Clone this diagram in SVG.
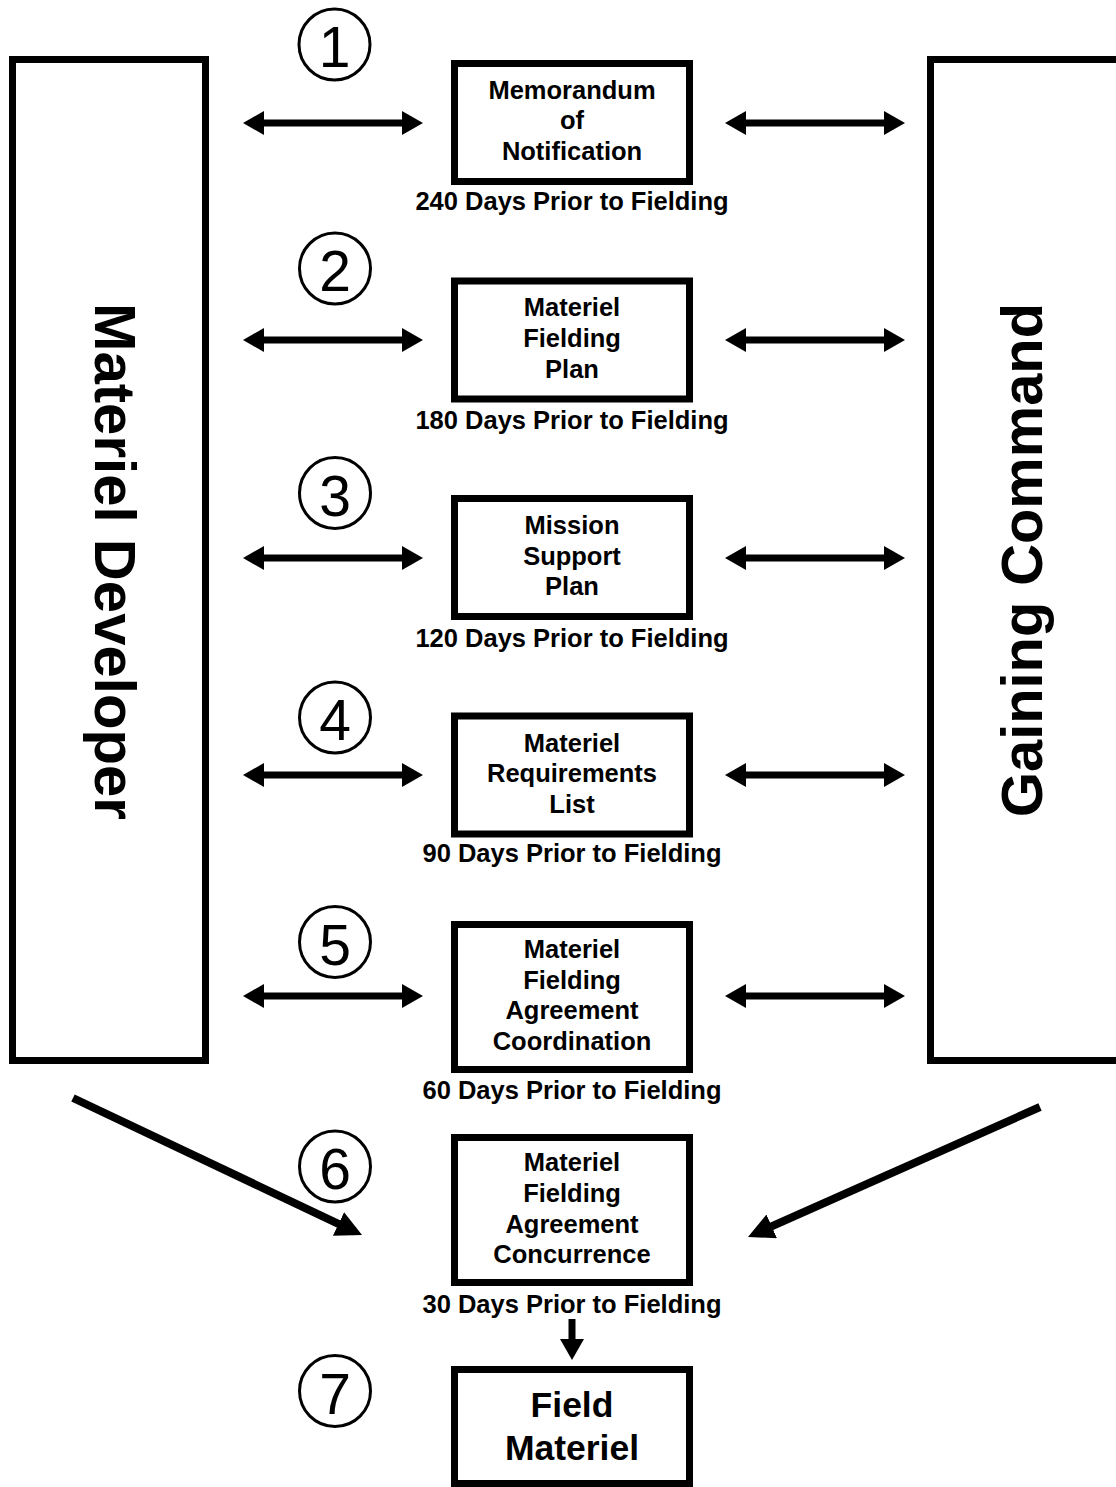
<svg xmlns="http://www.w3.org/2000/svg" width="1116" height="1487" viewBox="0 0 1116 1487">
  <style>
    .frame { fill: #fff; stroke: #000; stroke-width: 7; }
    .box { fill: #fff; stroke: #000; stroke-width: 7; }
    .side { font-family: "Liberation Sans", Arial, sans-serif; font-weight: bold; font-size: 58px; fill: #000; }
    .lbl { font-family: "Liberation Sans", Arial, sans-serif; font-weight: bold; font-size: 25.5px; fill: #000; text-anchor: middle; }
    .big { font-family: "Liberation Sans", Arial, sans-serif; font-weight: bold; font-size: 35.5px; fill: #000; text-anchor: middle; }
    .step { fill: none; stroke: #000; stroke-width: 3; }
    .num { font-family: "Liberation Sans", Arial, sans-serif; font-size: 57px; fill: #000; text-anchor: middle; }
    .link { stroke: #000; stroke-width: 7; fill: none; marker-start: url(#head); marker-end: url(#head); }
    .down { stroke: #000; stroke-width: 7; fill: none; marker-end: url(#head); }
    .diag { stroke: #000; stroke-width: 8; fill: none; marker-end: url(#bighead); }
  </style>
  <defs>
    <marker id="head" markerUnits="userSpaceOnUse" markerWidth="21" markerHeight="24" refX="14" refY="12" orient="auto-start-reverse" viewBox="0 0 21 24">
      <path d="M0,0 L21,12 L0,24 z" fill="#000"/>
    </marker>
    <marker id="bighead" markerUnits="userSpaceOnUse" markerWidth="26" markerHeight="26" refX="18" refY="13" orient="auto" viewBox="0 0 26 26">
      <path d="M0,0 L26,13 L0,26 z" fill="#000"/>
    </marker>
  </defs>

  <rect width="1116" height="1487" fill="#fff"/>

  <!-- side parties -->
  <g id="materiel-developer">
    <rect class="frame" x="12.5" y="59.5" width="193" height="1001"/>
    <text class="side" text-anchor="middle" textLength="517" lengthAdjust="spacingAndGlyphs" transform="translate(95,561.5) rotate(90)">Materiel Developer</text>
  </g>
  <g id="gaining-command">
    <rect class="frame" x="930.5" y="59.5" width="200" height="1001"/>
    <text class="side" text-anchor="middle" textLength="514" lengthAdjust="spacingAndGlyphs" transform="translate(1042,560) rotate(-90)">Gaining Command</text>
  </g>

  <!-- step 1 -->
  <g id="step1">
    <circle class="step" cx="334.5" cy="44.5" r="35.5"/>
    <text class="num" x="334.5" y="67">1</text>
    <rect class="box" x="454.5" y="63.5" width="235" height="118"/>
    <text class="lbl" x="572" y="99">Memorandum</text>
    <text class="lbl" x="572" y="129">of</text>
    <text class="lbl" x="572" y="160">Notification</text>
    <text class="lbl" x="572" y="210">240 Days Prior to Fielding</text>
  </g>

  <!-- step 2 -->
  <g id="step2">
    <circle class="step" cx="335" cy="268.5" r="35.5"/>
    <text class="num" x="335" y="291">2</text>
    <rect class="box" x="454.5" y="281" width="235" height="118"/>
    <text class="lbl" x="572" y="316">Materiel</text>
    <text class="lbl" x="572" y="347">Fielding</text>
    <text class="lbl" x="572" y="378">Plan</text>
    <text class="lbl" x="572" y="429">180 Days Prior to Fielding</text>
  </g>

  <!-- step 3 -->
  <g id="step3">
    <circle class="step" cx="335" cy="493" r="35.5"/>
    <text class="num" x="335" y="515.5">3</text>
    <rect class="box" x="454.5" y="498.5" width="235" height="118"/>
    <text class="lbl" x="572" y="534">Mission</text>
    <text class="lbl" x="572" y="565">Support</text>
    <text class="lbl" x="572" y="595">Plan</text>
    <text class="lbl" x="572" y="647">120 Days Prior to Fielding</text>
  </g>

  <!-- step 4 -->
  <g id="step4">
    <circle class="step" cx="335" cy="717.5" r="35.5"/>
    <text class="num" x="335" y="740">4</text>
    <rect class="box" x="454.5" y="716" width="235" height="118"/>
    <text class="lbl" x="572" y="752">Materiel</text>
    <text class="lbl" x="572" y="782">Requirements</text>
    <text class="lbl" x="572" y="813">List</text>
    <text class="lbl" x="572" y="862">90 Days Prior to Fielding</text>
  </g>

  <!-- step 5 -->
  <g id="step5">
    <circle class="step" cx="335" cy="942" r="35.5"/>
    <text class="num" x="335" y="964.5">5</text>
    <rect class="box" x="454.5" y="924.5" width="235" height="145"/>
    <text class="lbl" x="572" y="958">Materiel</text>
    <text class="lbl" x="572" y="989">Fielding</text>
    <text class="lbl" x="572" y="1019">Agreement</text>
    <text class="lbl" x="572" y="1050">Coordination</text>
    <text class="lbl" x="572" y="1099">60 Days Prior to Fielding</text>
  </g>

  <!-- step 6 -->
  <g id="step6">
    <circle class="step" cx="335" cy="1166.5" r="35.5"/>
    <text class="num" x="335" y="1189">6</text>
    <rect class="box" x="454.5" y="1137.5" width="235" height="145"/>
    <text class="lbl" x="572" y="1171">Materiel</text>
    <text class="lbl" x="572" y="1202">Fielding</text>
    <text class="lbl" x="572" y="1233">Agreement</text>
    <text class="lbl" x="572" y="1263">Concurrence</text>
    <text class="lbl" x="572" y="1313">30 Days Prior to Fielding</text>
  </g>

  <!-- step 7 -->
  <g id="step7">
    <circle class="step" cx="335" cy="1391" r="35.5"/>
    <text class="num" x="335" y="1413.5">7</text>
    <rect class="box" x="454.5" y="1369.5" width="235" height="114"/>
    <text class="big" x="572" y="1417">Field</text>
    <text class="big" x="572" y="1460">Materiel</text>
  </g>

  <!-- connectors -->
  <g id="connectors">
    <line class="link" x1="250" y1="123" x2="416" y2="123"/>
    <line class="link" x1="732" y1="123" x2="898" y2="123"/>
    <line class="link" x1="250" y1="340" x2="416" y2="340"/>
    <line class="link" x1="732" y1="340" x2="898" y2="340"/>
    <line class="link" x1="250" y1="558" x2="416" y2="558"/>
    <line class="link" x1="732" y1="558" x2="898" y2="558"/>
    <line class="link" x1="250" y1="775" x2="416" y2="775"/>
    <line class="link" x1="732" y1="775" x2="898" y2="775"/>
    <line class="link" x1="250" y1="996" x2="416" y2="996"/>
    <line class="link" x1="732" y1="996" x2="898" y2="996"/>
    <line class="diag" x1="73" y1="1098" x2="354.8" y2="1231.6"/>
    <line class="diag" x1="1040" y1="1107" x2="755.3" y2="1233.7"/>
    <line class="down" x1="572" y1="1319" x2="572" y2="1353"/>
  </g>
</svg>
